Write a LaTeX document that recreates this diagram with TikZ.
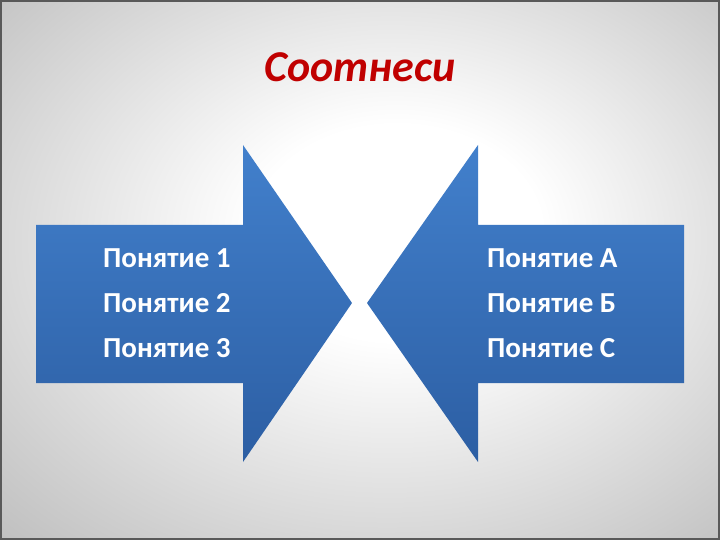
\documentclass[tikz,border=0pt]{standalone}
\usepackage{fontspec}
\setmainfont{Carlito}

\definecolor{titlered}{RGB}{192,0,0}
\definecolor{arrowtop}{RGB}{66,128,204}
\definecolor{arrowbot}{RGB}{44,94,163}
\pgfdeclareradialshading{slidebg}{\pgfpoint{3bp}{4bp}}{color(0bp)=(white); color(10bp)=(white); color(50bp)=(black!36); color(72bp)=(black!50)}

\tikzset{
  arrowshape/.style={top color=arrowtop, bottom color=arrowbot, draw=none},
  item/.style={anchor=base west, text=white, font=\fontsize{29}{31}\selectfont\bfseries, inner sep=0pt}
}

\begin{document}
\begin{tikzpicture}[x=1pt, y=-1pt]
\useasboundingbox (0,0) rectangle (720,540);
\shade[shading=slidebg] (0,0) rectangle (720,540);
\draw[black!65, line width=2pt] (1,1) rectangle (719,539);

\node[anchor=base, text=titlered, font=\fontsize{44}{48}\selectfont\bfseries\itshape] (title) at (360,82) {Соотнеси};

% left arrow
\shade[arrowshape] (36,225) -- (243,225) -- (243,145) -- (352,303) -- (243,462) -- (243,383) -- (36,383) -- cycle;
% right arrow
\shade[arrowshape] (684,225) -- (478,225) -- (478,145) -- (367,303) -- (478,462) -- (478,383) -- (684,383) -- cycle;

\node[item] (p1) at (103,267) {Понятие 1};
\node[item] (p2) at (103,312) {Понятие 2};
\node[item] (p3) at (103,357) {Понятие 3};
\node[item] (pa) at (487,267) {Понятие А};
\node[item] (pb) at (487,312) {Понятие Б};
\node[item] (pc) at (487,357) {Понятие С};
\end{tikzpicture}
\end{document}
